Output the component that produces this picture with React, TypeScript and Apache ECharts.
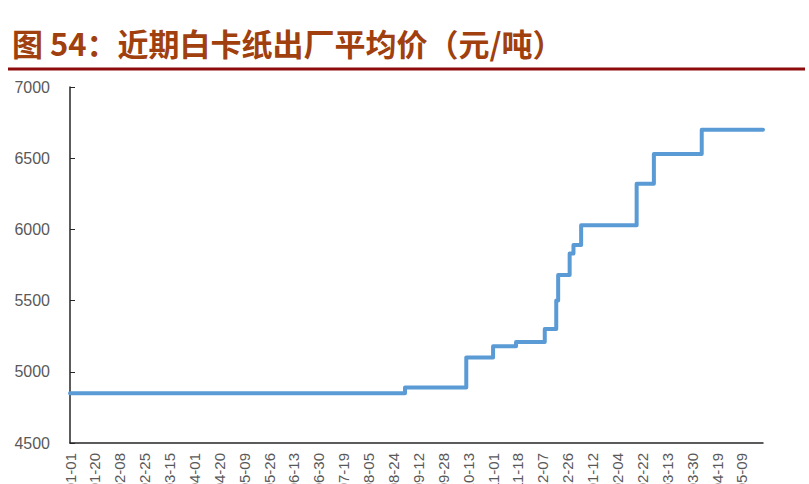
import React, { useEffect, useRef } from "react";
import * as echarts from "echarts";

// Tick labels on the x axis (one every 13 observations)
const dateLabels = [
  "2020-01-01", "2020-01-20", "2020-02-08", "2020-02-25", "2020-03-15", "2020-04-01",
  "2020-04-20", "2020-05-09", "2020-05-26", "2020-06-13", "2020-06-30", "2020-07-19",
  "2020-08-05", "2020-08-24", "2020-09-12", "2020-09-28", "2020-10-13", "2020-11-01",
  "2020-11-18", "2020-12-07", "2020-12-26", "2021-01-12", "2021-02-04", "2021-02-22",
  "2021-03-13", "2021-03-30", "2021-04-19", "2021-05-09",
];
const labelEvery = 13;
const lastIndex = 362;

// Price change points: observation index where a new price starts
const stepIndex = [0, 175, 207, 221, 233, 248, 254, 255, 261, 263, 267, 296, 305, 330, 362];
const stepPrice = [4850, 4890, 5100, 5180, 5210, 5300, 5500, 5680, 5830, 5890, 6030, 6320, 6530, 6700, 6700];

const yTicks = { min: 4500, max: 7000, interval: 500 };

const titleText = "图 54：近期白卡纸出厂平均价（元/吨）";

export default function App() {
  const ref = useRef<HTMLDivElement>(null);
  useEffect(() => {
    if (!ref.current) return;
    const chart = echarts.init(ref.current, undefined, { renderer: "svg" });
    const seriesData = stepIndex.map((x, i) => [x, stepPrice[i]]);
    chart.setOption({
      animation: false,
      backgroundColor: "#ffffff",
      graphic: [
        {
          type: "text",
          left: 12,
          top: 27,
          style: {
            text: titleText,
            fill: "#A0400F",
            font: 'bold 31px "Noto Sans CJK SC"',
          },
        },
        {
          type: "rect",
          shape: { x: 8, y: 67.5, width: 797, height: 3 },
          style: { fill: "#8E0B0B" },
        },
      ],
      grid: {
        left: 70,
        top: 87,
        width: 693,
        height: 356,
        containLabel: false,
        outerBoundsMode: "none",
      },
      xAxis: {
        type: "value",
        min: 0,
        max: lastIndex,
        interval: labelEvery,
        axisLine: { show: true, lineStyle: { color: "#262626", width: 1.5 } },
        axisTick: { show: false },
        splitLine: { show: false },
        axisLabel: {
          rotate: 90,
          margin: 10,
          color: "#595959",
          fontSize: 15,
          fontFamily: '"Liberation Sans", Arial, sans-serif',
          showMaxLabel: false,
          formatter: (v: number) => {
            const k = Math.round(v / labelEvery);
            return v % labelEvery === 0 && k < dateLabels.length ? dateLabels[k] : "";
          },
        },
      },
      yAxis: {
        type: "value",
        min: yTicks.min,
        max: yTicks.max,
        interval: yTicks.interval,
        axisLine: { show: true, lineStyle: { color: "#262626", width: 1.5 } },
        axisTick: { show: true, inside: true, length: 5, lineStyle: { color: "#262626" } },
        splitLine: { show: false },
        axisLabel: {
          margin: 20,
          color: "#595959",
          fontSize: 16,
          fontFamily: '"Liberation Sans", Arial, sans-serif',
          formatter: (v: number) => String(v),
        },
      },
      series: [
        {
          type: "line",
          step: "end",
          data: seriesData,
          symbol: "none",
          clip: false,
          lineStyle: { color: "#5B9BD5", width: 4, cap: "round", join: "round" },
        },
      ],
    });
    return () => chart.dispose();
  }, []);
  return (
    <div
      ref={ref}
      style={{ position: "absolute", left: 0, top: 0, width: 809, height: 484 }}
    />
  );
}
